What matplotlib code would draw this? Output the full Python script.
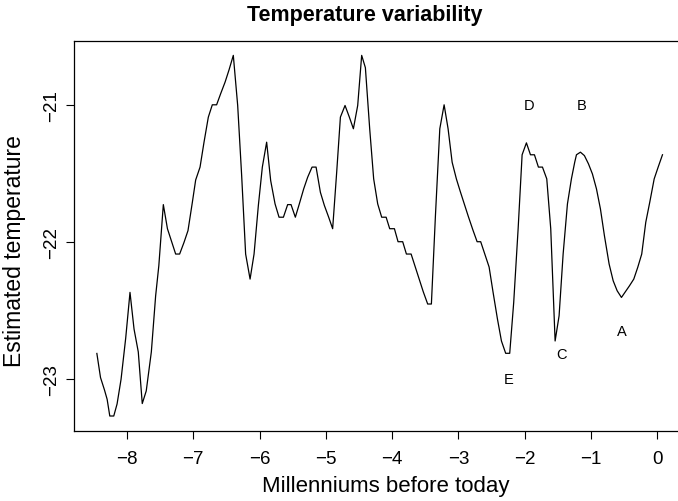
import matplotlib
matplotlib.use("Agg")
import matplotlib.pyplot as plt

plt.rcParams["font.family"] = ["Liberation Sans", "DejaVu Sans"]

# Temperature reconstruction (millennia before today, estimated temperature)
millennia = [
    -8.455, -8.40, -8.34, -8.30, -8.26, -8.20, -8.15, -8.09, -8.02, -7.955,
    -7.894, -7.83, -7.77, -7.71, -7.633, -7.568, -7.52, -7.452, -7.39, -7.33,
    -7.266, -7.206, -7.14, -7.08, -7.014, -6.964, -6.898, -6.838, -6.773, -6.713,
    -6.648, -6.587, -6.52, -6.46, -6.396, -6.33, -6.27, -6.21, -6.143, -6.083,
    -6.018, -5.958, -5.893, -5.832, -5.766, -5.706, -5.64, -5.576, -5.525, -5.46,
    -5.40, -5.334, -5.274, -5.208, -5.147, -5.082, -5.022, -4.957, -4.897, -4.836,
    -4.78, -4.71, -4.645, -4.584, -4.519, -4.459, -4.403, -4.338, -4.278, -4.217,
    -4.157, -4.142, -4.09, -4.036, -3.965, -3.91, -3.84, -3.784, -3.713, -3.65,
    -3.59, -3.53, -3.463, -3.407, -3.346, -3.28, -3.215, -3.155, -3.094, -3.03,
    -2.97, -2.91, -2.85, -2.78, -2.717, -2.663, -2.602, -2.536, -2.476, -2.41,
    -2.35, -2.286, -2.225, -2.165, -2.098, -2.038, -1.973, -1.912, -1.852, -1.792,
    -1.731, -1.666, -1.606, -1.54, -1.48, -1.419, -1.354, -1.294, -1.244, -1.218,
    -1.158, -1.098, -1.037, -0.977, -0.916, -0.856, -0.796, -0.725, -0.664, -0.604,
    -0.539, -0.479, -0.418, -0.353, -0.293, -0.233, -0.172, -0.112, -0.045, 0.015,
    0.08,
]
temperature = [
    -22.811, -22.987, -23.078, -23.146, -23.268, -23.268, -23.18, -23.0, -22.70, -22.365,
    -22.633, -22.80, -23.177, -23.085, -22.80, -22.39, -22.17, -21.724, -21.90, -21.99,
    -22.085, -22.085, -22.00, -21.914, -21.707, -21.544, -21.45, -21.268, -21.085, -20.995,
    -20.995, -20.914, -20.829, -20.739, -20.634, -21.0, -21.512, -22.085, -22.268, -22.085,
    -21.73, -21.45, -21.268, -21.549, -21.719, -21.816, -21.816, -21.724, -21.724, -21.816,
    -21.719, -21.609, -21.524, -21.45, -21.45, -21.634, -21.73, -21.816, -21.90, -21.487,
    -21.085, -21.0, -21.085, -21.17, -21.0, -20.634, -20.724, -21.17, -21.536, -21.719,
    -21.816, -21.816, -21.816, -21.90, -21.90, -21.995, -21.995, -22.085, -22.085, -22.18,
    -22.27, -22.36, -22.45, -22.45, -21.805, -21.17, -20.995, -21.17, -21.414, -21.536,
    -21.63, -21.72, -21.81, -21.91, -21.995, -21.995, -22.085, -22.18, -22.365, -22.56,
    -22.72, -22.81, -22.81, -22.44, -21.90, -21.36, -21.273, -21.36, -21.36, -21.45,
    -21.45, -21.536, -21.90, -22.72, -22.536, -22.085, -21.719, -21.536, -21.414, -21.36,
    -21.341, -21.366, -21.426, -21.50, -21.609, -21.756, -21.951, -22.158, -22.28, -22.353,
    -22.402, -22.36, -22.317, -22.268, -22.182, -22.085, -21.853, -21.707, -21.536, -21.45,
    -21.36,
]

# Letter annotations marking the recent swings
event_labels = ["A", "B", "C", "D", "E"]
event_x = [-0.54, -1.14, -1.445, -1.94, -2.24]
event_y = [-22.646, -21.0, -22.816, -21.0, -23.0]

x_ticks = [-8, -7, -6, -5, -4, -3, -2, -1, 0]
y_ticks = [-23, -22, -21]

fig = plt.figure(figsize=(6.78, 5.02), dpi=100)
ax = fig.add_axes([74 / 678, 70 / 502, 611 / 678, 390 / 502])

ax.plot(millennia, temperature, color="black", linewidth=0.9)

for lab, lx, ly in zip(event_labels, event_x, event_y):
    ax.text(lx, ly, lab, ha="center", va="center", fontsize=10.5)

ax.set_xlim(-8.80, 0.42)
ax.set_ylim(-23.3775, -20.529)
ax.set_xticks(x_ticks)
ax.set_yticks(y_ticks)
ax.tick_params(direction="out", length=5.8, width=0.8, labelsize=13.5)
ax.tick_params(axis="x", pad=8)
ax.tick_params(axis="y", pad=4)
for lbl in ax.get_yticklabels():
    lbl.set_rotation(90)
    lbl.set_va("center")

for sp in ax.spines.values():
    sp.set_linewidth(0.9)
ax.spines["right"].set_visible(False)

ax.set_xlabel("Millenniums before today", fontsize=16)
ax.set_ylabel("Estimated temperature", fontsize=16.5)
ax.xaxis.set_label_coords(0.51, -0.14, transform=ax.transAxes)
ax.yaxis.set_label_coords(-0.098, 0.465, transform=ax.transAxes)
ax.xaxis.label.set_va("center")
ax.yaxis.label.set_va("center")
fig.text(365 / 678, 1 - 15 / 502, "Temperature variability",
         ha="center", va="center", fontsize=15.5, fontweight="bold")

fig.savefig("out.png", dpi=100)
